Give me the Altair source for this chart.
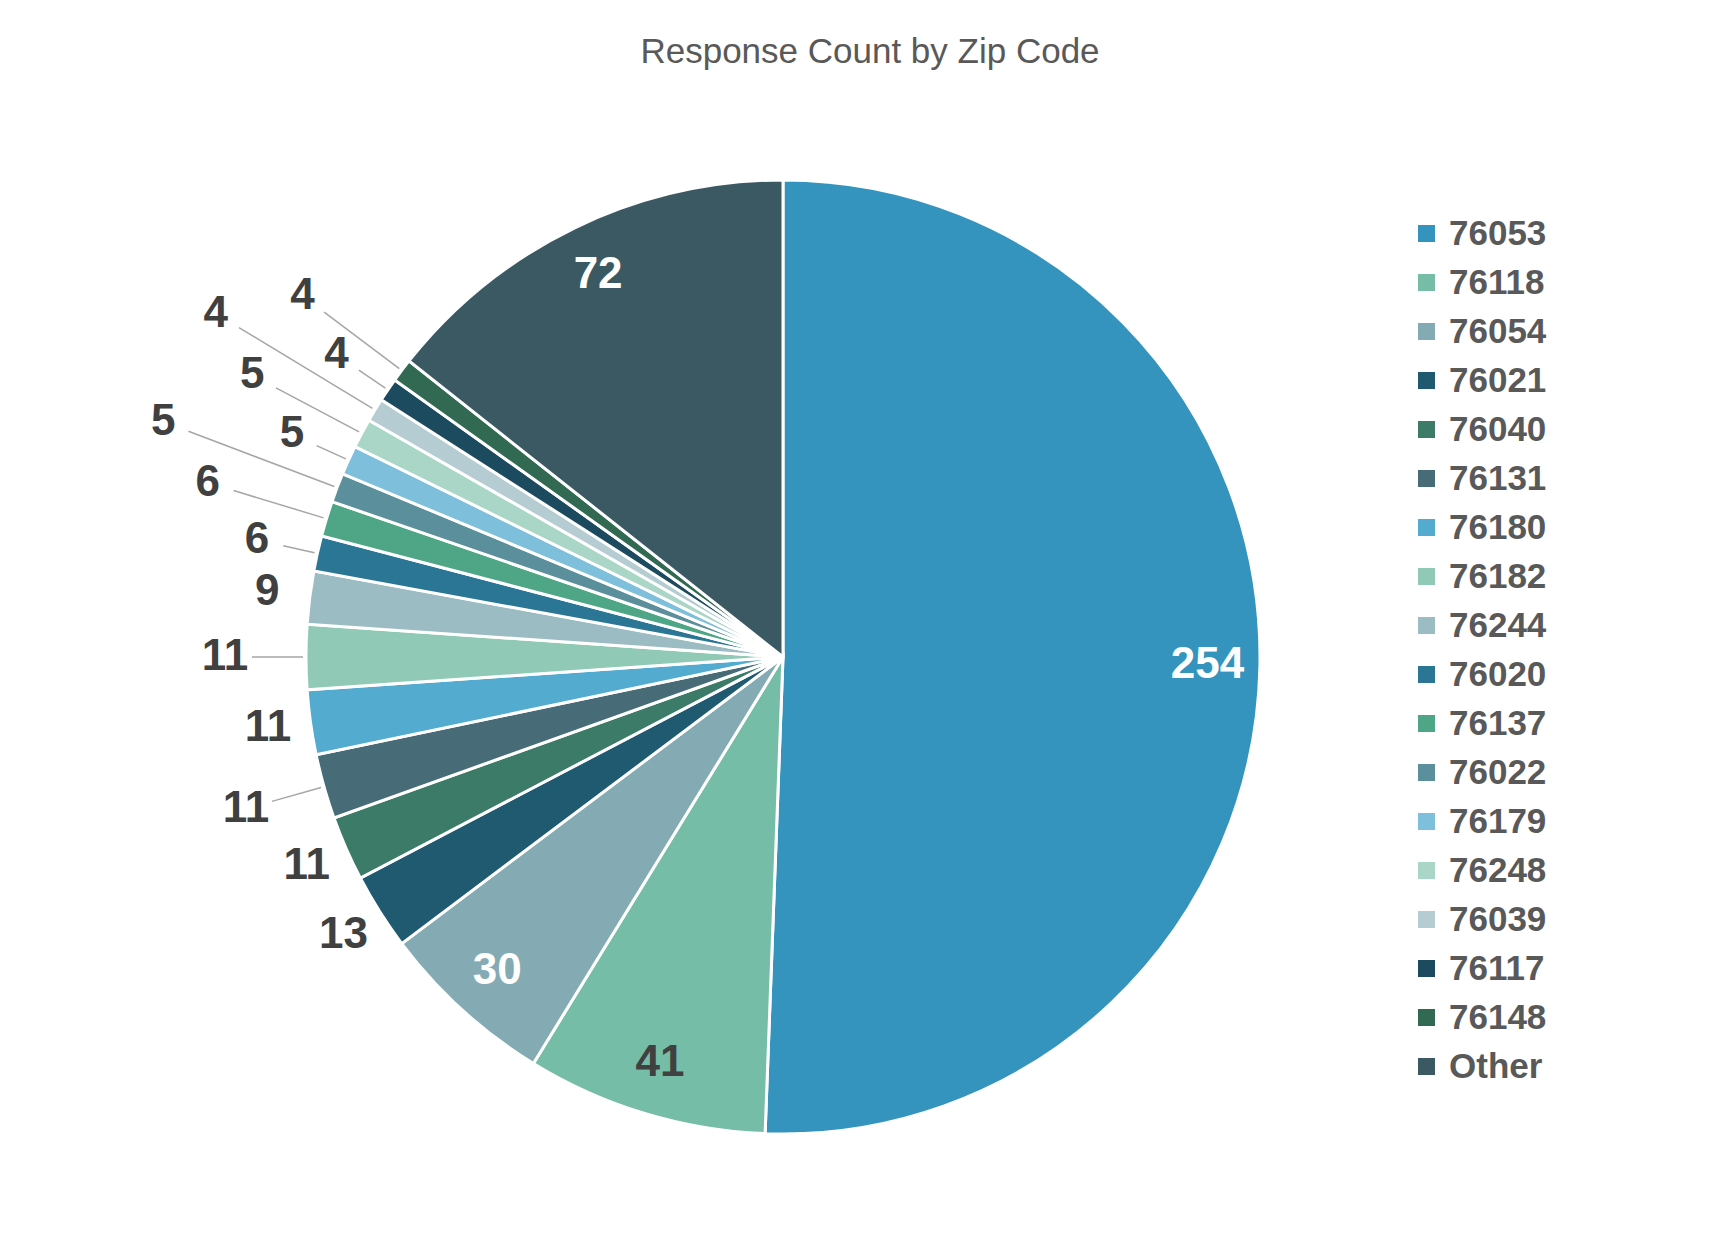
import altair as alt
import pandas as pd

zips = ["76053", "76118", "76054", "76021", "76040", "76131", "76180", "76182",
        "76244", "76020", "76137", "76022", "76179", "76248", "76039", "76117",
        "76148", "Other"]
counts = [254, 41, 30, 13, 11, 11, 11, 11, 9, 6, 6, 5, 5, 5, 4, 4, 4, 72]
colors = ["#3594BD", "#76BDA7", "#84ABB4", "#1F5A70", "#3C7B67", "#476C77",
          "#53ABD0", "#90C9B6", "#9CBCC4", "#2A7694", "#4FA687", "#5C8F9C",
          "#7EBFDC", "#AAD6C8", "#B5CCD3", "#1C4A5E", "#316952", "#3B5963"]

df = pd.DataFrame({"zip": zips, "count": counts, "idx": list(range(len(zips)))})

R = 477          # pie radius (px)
CX = 775         # pie centre within plot area
CY = 579

base = alt.Chart(df).transform_joinaggregate(
    total="sum(count)"
).transform_window(
    cum="sum(count)", sort=[alt.SortField("idx")], frame=[None, 0]
).transform_calculate(
    mid="(datum.cum - datum.count/2) / datum.total * 2 * PI",
    fac=("datum.count >= 30 ? 0.89 : (datum.count >= 9 ? "
         "((datum.idx % 2 == 1 && datum.idx > 3) ? 1.17 : 1.09) : "
         "(datum.idx % 3 == 0 ? 1.13 : (datum.idx % 3 == 1 ? 1.26 : 1.39)))"),
).transform_calculate(
    lx=f"{CX} + datum.fac * {R} * sin(datum.mid)",
    ly=f"{CY} - datum.fac * {R} * cos(datum.mid)",
    ax=f"{CX} + {R + 3} * sin(datum.mid)",
    ay=f"{CY} - {R + 3} * cos(datum.mid)",
    bx=f"{CX} + (datum.fac * {R} - 27) * sin(datum.mid)",
    by=f"{CY} - (datum.fac * {R} - 27) * cos(datum.mid)",
)

arcs = alt.Chart(df).mark_arc(outerRadius=R, stroke="white", strokeWidth=3).encode(
    theta=alt.Theta("count:Q", stack=True),
    order=alt.Order("idx:Q", sort="ascending"),
    color=alt.Color("zip:N", sort=zips,
                    scale=alt.Scale(domain=zips, range=colors),
                    legend=alt.Legend(title=None, orient="none",
                                      legendX=1401, legendY=138,
                                      symbolType="square", symbolSize=289,
                                      symbolStrokeWidth=0, labelFontSize=35,
                                      labelFont="Liberation Sans",
                                      labelFontWeight="bold",
                                      labelColor="#595959", rowPadding=13,
                                      labelOffset=5, padding=0,
                                      labelLimit=300)),
    x=alt.value(CX),
    y=alt.value(CY),
)

leaders = base.transform_filter(
    "datum.count < 30 && datum.fac > 1.1"
).mark_rule(color="#A6A6A6", strokeWidth=1.5).encode(
    x=alt.X("ax:Q", scale=None, axis=None),
    y=alt.Y("ay:Q", scale=None, axis=None),
    x2="bx:Q",
    y2="by:Q",
)

labels = base.mark_text(font="Liberation Sans", fontWeight="bold", fontSize=44,
                        align="center", baseline="middle").encode(
    x=alt.X("lx:Q", scale=None, axis=None),
    y=alt.Y("ly:Q", scale=None, axis=None),
    text="count:Q",
    color=alt.condition(
        "datum.count >= 30 && datum.zip != '76118'",
        alt.value("white"), alt.value("#404040")),
)

chart = alt.layer(arcs, leaders, labels).properties(
    width=1716,
    height=1140,
    padding={"left": 0, "top": 27, "right": 0, "bottom": 0},
    title=alt.TitleParams("Response Count by Zip Code", fontSize=35,
                          font="Liberation Sans", fontWeight="normal",
                          color="#595959", anchor="middle", offset=8, dx=4),
).configure_view(stroke=None)

chart.save("out.html", embed_options={"renderer": "svg", "actions": False})
